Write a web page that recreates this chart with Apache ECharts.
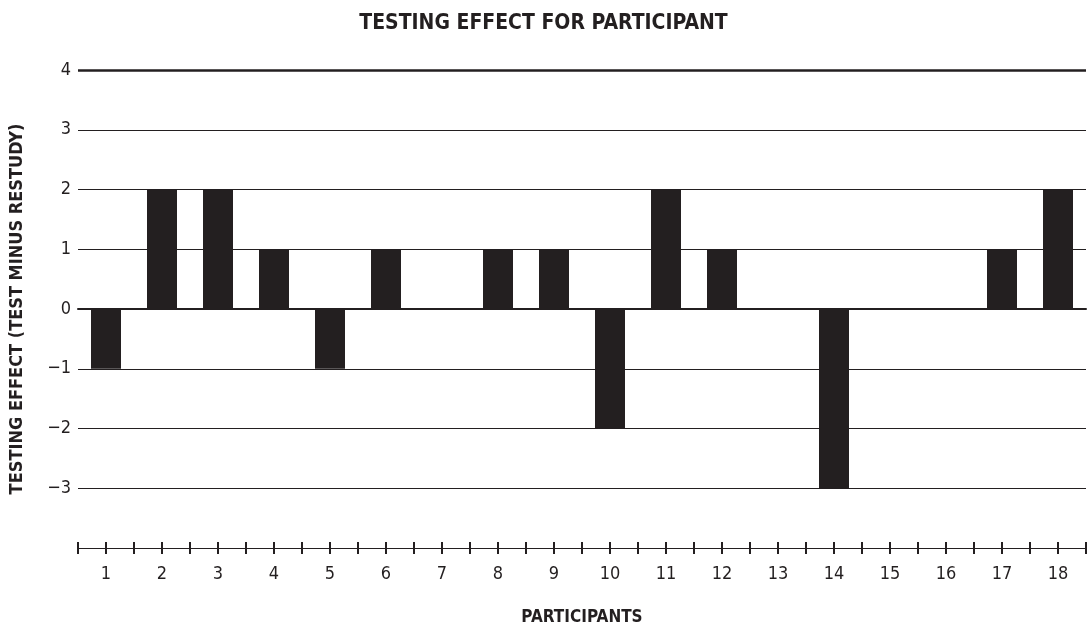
<!DOCTYPE html>
<html>
<head>
<meta charset="utf-8">
<title>Testing effect for participant</title>
<script src="https://cdn.jsdelivr.net/npm/echarts@6/dist/echarts.min.js"></script>
<style>
  html, body { margin: 0; padding: 0; background: #fff; }
  #chart { width: 1087px; height: 627px; }
</style>
</head>
<body>
<div id="chart"></div>
<script>
// data
const participants = ['1', '2', '3', '4', '5', '6', '7', '8', '9', '10', '11', '12', '13', '14', '15', '16', '17', '18'];
const testingEffect = [-1, 2, 2, 1, -1, 1, 0, 1, 1, -2, 2, 1, 0, -3, 0, 0, 1, 2];
const yTicks = [-4, -3, -2, -1, 0, 1, 2, 3, 4];

const ink = '#231f20';
const font = '"Liberation Sans Narrow", "DejaVu Sans Condensed", Arial, sans-serif';

const chart = echarts.init(document.getElementById('chart'));

// the x axis has ticks both between and under the categories, crossing the line
const tickAxis = (alignWithLabel) => ({
  type: 'category',
  data: participants,
  position: 'bottom',
  offset: -6,
  axisLine: { show: false },
  axisTick: { show: true, alignWithLabel: alignWithLabel, length: 12, lineStyle: { color: ink, width: 2 } },
  axisLabel: { show: false },
  splitLine: { show: false }
});

const option = {
  animation: false,
  title: {
    text: 'TESTING EFFECT FOR PARTICIPANT',
    left: 'center',
    top: 8,
    textStyle: { fontFamily: font, fontWeight: 'bold', fontSize: 21, color: ink }
  },
  grid: { left: 78, right: 1, top: 70, bottom: 79, outerBoundsMode: 'none' },
  xAxis: [
    {
      type: 'category',
      data: participants,
      position: 'bottom',
      name: 'PARTICIPANTS',
      nameLocation: 'middle',
      nameGap: 61,
      nameTextStyle: { fontFamily: font, fontWeight: 'bold', fontSize: 17, color: ink },
      axisLine: { show: true, lineStyle: { color: ink, width: 2 } },
      axisTick: { show: false },
      axisLabel: { margin: 17, fontFamily: font, fontSize: 18, color: ink },
      splitLine: { show: false }
    },
    tickAxis(false),
    tickAxis(true)
  ],
  yAxis: {
    type: 'value',
    min: yTicks[0],
    max: yTicks[yTicks.length - 1],
    interval: 1,
    name: 'TESTING EFFECT (TEST MINUS RESTUDY)',
    nameLocation: 'middle',
    nameGap: 52,
    nameTextStyle: { fontFamily: font, fontWeight: 'bold', fontSize: 18, color: ink },
    axisLine: { show: false },
    axisTick: { show: false },
    axisLabel: {
      margin: 7,
      fontFamily: font,
      fontSize: 18,
      color: ink,
      formatter: (v) => (v === yTicks[0] ? '' : String(v).replace('-', '\u2212'))
    },
    splitLine: { show: true, lineStyle: { color: ink, width: 1 } }
  },
  series: [
    {
      type: 'bar',
      xAxisIndex: 0,
      data: testingEffect,
      barWidth: 30,
      itemStyle: { color: ink },
      markLine: {
        silent: true,
        symbol: 'none',
        label: { show: false },
        lineStyle: { color: ink, width: 2.5, type: 'solid' },
        data: [{ yAxis: yTicks[yTicks.length - 1] }]
      }
    }
  ]
};

chart.setOption(option);
</script>
</body>
</html>
